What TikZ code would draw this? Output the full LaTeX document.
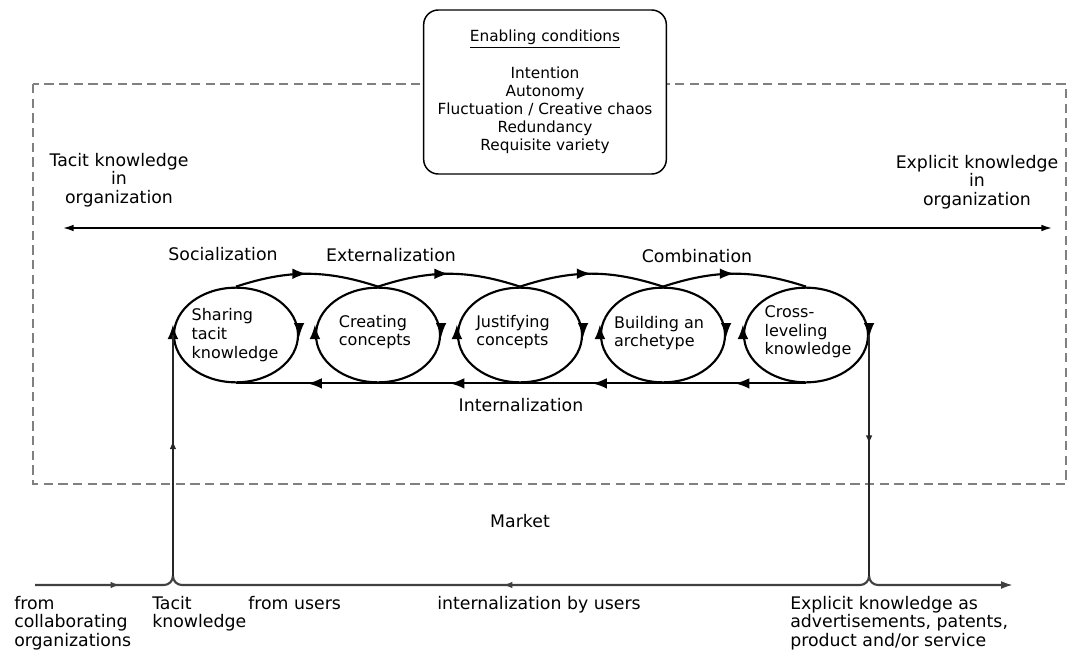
\documentclass[tikz,border=0pt]{standalone}
\usepackage{fontspec}
\setmainfont{DejaVu Sans}
\usetikzlibrary{shapes.geometric,arrows.meta,calc,decorations.markings}

\begin{document}
\begin{tikzpicture}[x=0.75pt, y=0.75pt,
    spiral stage/.style={ellipse, draw, line width=1.6pt, minimum width=93pt, minimum height=71pt, inner sep=0pt},
    stage text/.style={align=left, inner sep=0pt, font=\fontsize{12}{14}\selectfont},
    mode label/.style={inner sep=0pt, align=center, font=\fontsize{13}{13.9}\selectfont},
    market label/.style={inner sep=0pt, align=left, anchor=north west, font=\fontsize{13}{13.9}\selectfont},
    spiral line/.style={line width=1.6pt},
    stage tip/.style={line width=1.6pt, -{Latex[length=11pt,width=8pt]}},
    mid tip/.style={postaction={decorate}, decoration={markings,
        mark=at position #1 with {\arrow{Latex[length=11pt,width=8pt]}}}},
    back tips/.style={postaction={decorate}, decoration={markings,
        mark=between positions 0.125 and 0.875 step 0.25 with {\arrow{Latex[length=11pt,width=8pt]}}}},
    small tip/.style={postaction={decorate}, decoration={markings,
        mark=at position #1 with {\arrow{Latex[length=6pt,width=5pt]}}}},
    feed line/.style={line width=1pt, black!85},
    org frame/.style={line width=0.8pt, black!50, dash pattern=on 7pt off 4pt},
    cond box/.style={draw, line width=1.1pt, rounded corners=11pt, fill=white, align=center,
        minimum width=182pt, minimum height=123pt, font=\fontsize{11.5}{13.5}\selectfont}]

    \useasboundingbox (0,0) rectangle (1068,-653);

    % organization frame and enabling conditions
    \draw[org frame] (33,-84) rectangle (1066,-484);
    \node[cond box] (cond) at (545,-92) {\underline{Enabling conditions}\\[14pt]Intention\\Autonomy\\Fluctuation / Creative chaos\\Redundancy\\Requisite variety};

    % knowledge axis
    \node[mode label] (tacit org) at (119,-180) {Tacit knowledge\\in\\organization};
    \node[mode label] (explicit org) at (977,-182) {Explicit knowledge\\in\\organization};
    \coordinate (axis west) at (63,-228);
    \coordinate (axis east) at (1052,-228);
    \draw[line width=1.1pt, {Latex[length=8pt,width=5pt]}-{Latex[length=8pt,width=5pt]}] (axis west) -- (axis east);

    % spiral of the five phases
    \node[spiral stage] (share) at (236,-335) {};
    \node[spiral stage] (create) at (378,-335) {};
    \node[spiral stage] (justify) at (520,-335) {};
    \node[spiral stage] (build) at (663,-335) {};
    \node[spiral stage] (cross) at (806,-335) {};

    \node[stage text] (share txt) at (235,-335) {Sharing\\tacit\\knowledge};
    \node[stage text] (create txt) at (375,-332) {Creating\\concepts};
    \node[stage text] (justify txt) at (513,-332) {Justifying\\concepts};
    \node[stage text] (build txt) at (659,-333) {Building an\\archetype};
    \node[stage text] (cross txt) at (808,-332) {Cross-\\leveling\\knowledge};

    \foreach \a/\b in {share/create, create/justify, justify/build, build/cross}
        \draw[spiral line, mid tip=0.5] (\a.north) to[out=18,in=162] (\b.north);
    \draw[spiral line, back tips] (cross.south) -- (share.south);
    \foreach \s in {share, create, justify, build, cross} {
        \draw[stage tip] ([yshift=9pt]\s.east) -- ([yshift=-2pt]\s.east);
        \draw[stage tip] ([yshift=-3pt]\s.west) -- ([yshift=8pt]\s.west);
    }

    \node[mode label] (social) at (223,-254) {Socialization};
    \node[mode label] (external) at (391,-255) {Externalization};
    \node[mode label] (combine) at (697,-256) {Combination};
    \node[mode label] (internal) at (521,-405) {Internalization};

    % market
    \node[mode label] (market) at (520,-521) {Market};
    \coordinate (mkt west) at (35,-585);
    \coordinate (mkt east) at (1013,-585);
    \coordinate (tacit in) at (share.west |- 0,-576);
    \coordinate (explicit out) at (cross.east |- 0,-576);
    \draw[line width=1.6pt, black!75, -{Latex[length=9pt,width=6pt]},
        postaction={decorate}, decoration={markings,
            mark=at position 0.085 with {\arrow{Latex[length=7pt,width=5pt]}},
            mark=at position 0.479 with {\arrowreversed{Latex[length=7pt,width=5pt]}}}]
        (mkt west) -- ($(tacit in|-mkt west)+(-9,0)$) to[out=0,in=-90] (tacit in)
        to[out=-90,in=180] ($(tacit in|-mkt west)+(9,0)$)
        -- ($(explicit out|-mkt west)+(-9,0)$) to[out=0,in=-90] (explicit out)
        to[out=-90,in=180] ($(explicit out|-mkt west)+(9,0)$) -- (mkt east);
    \draw[feed line, small tip=0.56] (tacit in) -- (share.west);
    \draw[feed line, small tip=0.45] (cross.east) -- (explicit out);

    \node[market label] (collab) at (14,-596) {from\\collaborating\\organizations};
    \node[market label] (tacit mkt) at (152,-596) {Tacit\\knowledge};
    \node[market label] (users) at (248,-596) {from users};
    \node[market label] (users int) at (437,-596) {internalization by users};
    \node[market label] (explicit mkt) at (790,-596) {Explicit knowledge as\\advertisements, patents,\\product and/or service};

\end{tikzpicture}
\end{document}
